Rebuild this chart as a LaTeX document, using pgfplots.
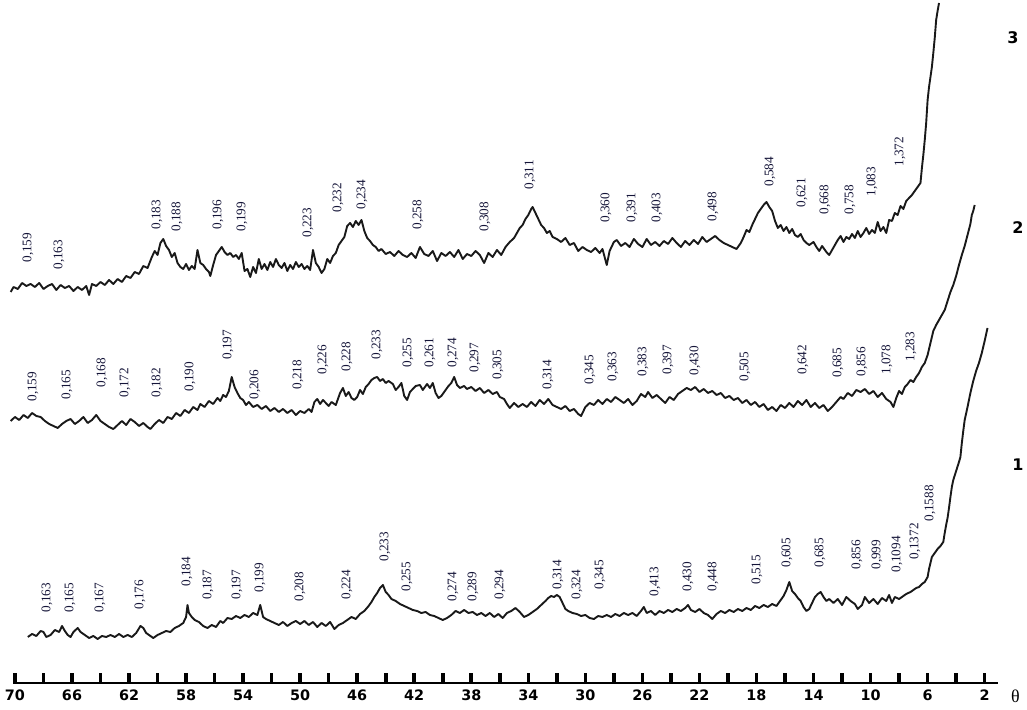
\documentclass[border=0pt]{standalone}
\usepackage{fontspec}
\setmainfont{Liberation Serif}
\newfontfamily\dejavu{DejaVu Sans}
\usepackage{pgfplots}
\pgfplotsset{compat=1.18}
\definecolor{labcol}{rgb}{0.08,0.08,0.22}
\definecolor{curve}{rgb}{0.1,0.1,0.1}

% 1 px of the reference = 0.5pt; y is height above the axis line in px
\pgfplotsset{
  pattern/.style={curve, line width=0.95pt, mark=none, line join=round},
  peaklabels/.style={only marks, mark=none, nodes near coords, point meta=explicit symbolic,
    nodes near coords style={rotate=90, anchor=west, inner sep=0pt, text=labcol,
      font=\fontsize{6.6}{7}\selectfont}},
}

\begin{document}
\begin{tikzpicture}
\begin{axis}[
  x=7.13pt, y=0.5pt,
  x dir=reverse,
  xmin=1.07, xmax=70.14, ymin=0, ymax=683,
  axis x line=bottom, axis y line=none,
  axis line style={-, line width=1pt},
  xtick={2,6,...,70},
  xticklabels={2,6,10,14,18,22,26,30,34,38,42,46,50,54,58,62,66,70},
  minor xtick={4,8,...,68},
  tick align=inside,
  major tick length=5pt, minor tick length=5pt,
  tick style={black, line width=1.8pt},
  xticklabel style={font=\dejavu\bfseries\fontsize{7.2}{8}\selectfont},
  clip=false,
]

% curve 3
\addplot[pattern] coordinates {
(70.3,391) (70.1,396) (69.8,394) (69.5,400) (69.2,397) (68.9,399) (68.6,396) (68.3,400) (68.0,394) (67.7,397)
(67.4,399) (67.1,393) (66.8,398) (66.5,395) (66.2,397) (65.9,392) (65.6,396) (65.3,393) (65.0,397) (64.8,388)
(64.6,399) (64.3,397) (64.0,401) (63.7,398) (63.4,403) (63.1,399) (62.8,404) (62.5,401) (62.2,407) (61.9,405)
(61.6,411) (61.3,409) (61.0,417) (60.7,415) (60.4,426) (60.2,432) (60.0,428) (59.8,440) (59.6,444) (59.4,437)
(59.2,433) (59.0,426) (58.8,430) (58.6,420) (58.4,416) (58.2,414) (58.0,419) (57.8,413) (57.6,417) (57.4,414)
(57.2,433) (57.0,420) (56.8,418) (56.6,414) (56.4,411) (56.3,407) (56.1,418) (55.9,428) (55.7,432) (55.5,436)
(55.3,431) (55.1,428) (54.9,430) (54.7,426) (54.5,428) (54.3,424) (54.1,430) (53.9,412) (53.7,414) (53.5,406)
(53.3,416) (53.1,410) (52.9,424) (52.7,414) (52.5,419) (52.3,413) (52.1,421) (51.9,416) (51.7,424) (51.5,418)
(51.3,415) (51.1,420) (50.9,412) (50.7,418) (50.5,414) (50.3,421) (50.1,416) (49.9,419) (49.7,414) (49.5,417)
(49.3,413) (49.1,433) (48.9,420) (48.7,416) (48.5,410) (48.3,414) (48.1,424) (47.9,420) (47.7,427) (47.5,430)
(47.3,438) (47.1,442) (46.9,446) (46.7,457) (46.5,460) (46.3,456) (46.1,462) (45.9,458) (45.7,463) (45.5,452)
(45.3,445) (45.1,442) (44.9,438) (44.7,436) (44.5,432) (44.3,434) (44.0,429) (43.7,431) (43.4,427) (43.1,432)
(42.8,428) (42.5,426) (42.2,430) (41.9,425) (41.6,436) (41.3,429) (41.0,427) (40.7,432) (40.4,422) (40.1,430)
(39.8,427) (39.5,431) (39.2,426) (38.9,433) (38.6,424) (38.3,429) (38.0,427) (37.7,432) (37.4,428) (37.1,420)
(36.8,430) (36.5,426) (36.2,433) (35.9,428) (35.6,436) (35.3,441) (35.0,445) (34.8,450) (34.6,455) (34.4,458)
(34.2,464) (34.0,468) (33.8,474) (33.7,476) (33.5,470) (33.3,464) (33.1,458) (32.9,455) (32.7,450) (32.5,452)
(32.3,446) (32.0,444) (31.7,441) (31.4,445) (31.1,438) (30.8,440) (30.5,432) (30.2,436) (29.9,433) (29.6,431)
(29.3,435) (29.0,430) (28.8,434) (28.5,418) (28.3,432) (28.0,441) (27.8,443) (27.5,437) (27.2,440) (26.9,436)
(26.6,444) (26.3,439) (26.0,436) (25.7,444) (25.4,438) (25.1,441) (24.8,437) (24.5,442) (24.2,439) (23.9,445)
(23.6,440) (23.3,436) (23.0,442) (22.7,438) (22.4,443) (22.1,439) (21.8,446) (21.5,441) (21.2,444) (20.9,447)
(20.6,443) (20.3,440) (20.0,438) (19.7,436) (19.4,434) (19.1,440) (18.9,446) (18.7,453) (18.5,451) (18.3,458)
(18.1,464) (17.9,470) (17.7,474) (17.5,478) (17.3,481) (17.1,476) (16.9,472) (16.7,462) (16.5,455) (16.3,458)
(16.1,452) (15.9,456) (15.7,450) (15.5,454) (15.3,448) (15.1,446) (14.9,449) (14.7,443) (14.5,440) (14.3,438)
(14.0,441) (13.8,436) (13.6,432) (13.4,437) (13.1,431) (12.9,428) (12.7,433) (12.5,438) (12.3,443) (12.1,447)
(11.9,441) (11.7,446) (11.5,444) (11.3,449) (11.1,445) (10.9,452) (10.7,446) (10.5,450) (10.3,455) (10.1,449)
(9.9,453) (9.7,450) (9.5,461) (9.3,452) (9.1,456) (8.9,450) (8.7,463) (8.5,462) (8.3,470) (8.1,468)
(7.9,477) (7.7,474) (7.5,482) (7.3,485) (7.1,488) (6.9,492) (6.7,496) (6.5,500) (6.4,515) (6.3,528)
(6.2,543) (6.1,560) (6.0,583) (5.9,596) (5.8,606) (5.7,616) (5.6,630) (5.5,645) (5.4,663) (5.3,672) (5.2,680)
};

% curve 2
\addplot[pattern] coordinates {
(70.3,262) (70.0,266) (69.7,263) (69.4,268) (69.1,265) (68.8,270) (68.5,267) (68.2,266) (67.9,262) (67.6,259)
(67.3,257) (67.0,255) (66.7,259) (66.4,262) (66.1,264) (65.8,259) (65.5,262) (65.2,266) (64.9,260) (64.6,263)
(64.3,268) (64.0,262) (63.7,259) (63.4,256) (63.1,254) (62.8,258) (62.5,262) (62.2,258) (61.9,264) (61.6,261)
(61.3,257) (61.0,260) (60.7,256) (60.5,254) (60.2,259) (59.9,263) (59.6,260) (59.3,266) (59.0,264) (58.7,270)
(58.4,267) (58.1,273) (57.8,270) (57.5,276) (57.2,273) (57.0,279) (56.7,276) (56.4,282) (56.1,279) (55.8,285)
(55.6,282) (55.4,288) (55.2,286) (55.0,292) (54.8,306) (54.6,296) (54.4,290) (54.2,285) (54.0,283) (53.8,278)
(53.6,281) (53.3,276) (53.0,278) (52.7,274) (52.4,277) (52.1,272) (51.8,275) (51.5,271) (51.2,274) (50.9,270)
(50.6,273) (50.3,268) (50.0,272) (49.7,270) (49.4,274) (49.2,271) (49.0,281) (48.8,284) (48.6,279) (48.4,283)
(48.2,280) (48.0,277) (47.8,281) (47.5,278) (47.2,290) (47.0,295) (46.8,287) (46.6,291) (46.4,285) (46.2,283)
(46.0,286) (45.8,293) (45.6,289) (45.4,296) (45.2,299) (45.0,303) (44.8,305) (44.6,306) (44.4,302) (44.2,304)
(44.0,300) (43.8,302) (43.5,299) (43.3,293) (43.1,296) (42.9,300) (42.7,287) (42.5,283) (42.3,291) (42.1,294)
(41.9,297) (41.6,298) (41.4,293) (41.1,299) (40.9,295) (40.7,300) (40.5,290) (40.3,285) (40.1,287) (39.8,293)
(39.6,297) (39.4,300) (39.2,306) (39.0,298) (38.8,295) (38.5,297) (38.3,294) (38.0,296) (37.7,292) (37.4,295)
(37.1,290) (36.8,293) (36.5,289) (36.2,291) (36.0,286) (35.7,284) (35.5,279) (35.3,275) (35.0,280) (34.7,276)
(34.4,279) (34.1,276) (33.8,281) (33.5,277) (33.2,283) (32.9,279) (32.6,284) (32.3,278) (32.0,276) (31.7,274)
(31.4,277) (31.1,272) (30.8,274) (30.5,269) (30.3,267) (30.0,276) (29.7,280) (29.4,278) (29.1,283) (28.8,279)
(28.5,284) (28.2,281) (27.9,286) (27.6,283) (27.3,280) (27.0,284) (26.7,278) (26.4,282) (26.1,289) (25.8,286)
(25.6,291) (25.3,285) (25.0,288) (24.7,284) (24.4,280) (24.1,286) (23.8,283) (23.5,289) (23.2,292) (22.9,295)
(22.6,293) (22.3,296) (22.0,291) (21.7,294) (21.4,290) (21.1,292) (20.8,288) (20.5,290) (20.2,285) (19.9,287)
(19.6,283) (19.3,285) (19.0,280) (18.7,283) (18.4,278) (18.1,281) (17.8,276) (17.5,279) (17.2,273) (16.9,276)
(16.6,272) (16.3,278) (16.0,275) (15.7,280) (15.4,276) (15.1,282) (14.8,278) (14.5,283) (14.2,276) (13.9,280)
(13.6,275) (13.3,278) (13.0,272) (12.7,276) (12.4,281) (12.1,286) (11.9,284) (11.6,290) (11.3,287) (11.0,293)
(10.7,291) (10.4,294) (10.1,289) (9.8,292) (9.5,286) (9.2,290) (8.9,284) (8.6,281) (8.4,276) (8.2,285)
(8.0,292) (7.8,289) (7.6,296) (7.4,299) (7.2,303) (7.0,301) (6.8,306) (6.6,310) (6.4,316) (6.2,320)
(6.0,328) (5.8,340) (5.6,352) (5.4,358) (5.2,363) (5.0,368) (4.8,373) (4.6,382) (4.4,391) (4.2,398)
(4.0,407) (3.8,418) (3.6,428) (3.4,437) (3.2,448) (3.0,459) (2.9,468) (2.8,472) (2.7,478)
};

% curve 1
\addplot[pattern] coordinates {
(69.1,46) (68.8,49) (68.5,47) (68.2,52) (68.0,51) (67.8,46) (67.5,48) (67.2,53) (66.9,51) (66.7,57)
(66.5,52) (66.3,48) (66.1,46) (65.9,51) (65.6,55) (65.4,51) (65.1,48) (64.8,45) (64.5,47) (64.2,44)
(63.9,47) (63.6,46) (63.3,48) (63.0,46) (62.7,49) (62.4,46) (62.1,48) (61.8,46) (61.5,50) (61.2,57)
(61.0,55) (60.8,50) (60.5,47) (60.3,45) (60.0,48) (59.7,50) (59.4,52) (59.1,51) (58.8,55) (58.5,57)
(58.2,60) (58.0,66) (57.9,78) (57.8,70) (57.6,66) (57.4,63) (57.1,61) (56.8,57) (56.5,55) (56.2,58)
(55.9,56) (55.6,62) (55.4,60) (55.1,65) (54.8,64) (54.5,67) (54.2,65) (53.9,68) (53.6,66) (53.3,70)
(53.0,68) (52.8,78) (52.6,66) (52.4,64) (52.1,62) (51.8,60) (51.5,58) (51.2,61) (50.9,57) (50.6,60)
(50.3,62) (50.0,59) (49.7,62) (49.4,58) (49.1,61) (48.8,56) (48.5,60) (48.2,57) (47.9,61) (47.6,54)
(47.3,58) (47.0,60) (46.7,63) (46.4,66) (46.1,64) (45.8,69) (45.5,72) (45.2,77) (45.0,81) (44.8,86)
(44.6,90) (44.4,95) (44.2,98) (44.0,91) (43.8,88) (43.6,84) (43.3,82) (43.0,79) (42.7,77) (42.4,75)
(42.1,73) (41.8,72) (41.5,70) (41.2,71) (40.9,68) (40.6,67) (40.3,65) (40.0,63) (39.7,65) (39.4,68)
(39.1,72) (38.8,70) (38.5,73) (38.2,70) (37.9,71) (37.6,68) (37.3,70) (37.0,67) (36.7,70) (36.4,66)
(36.1,69) (35.8,65) (35.5,70) (35.2,72) (34.9,75) (34.6,71) (34.3,66) (34.0,68) (33.7,71) (33.4,74)
(33.1,78) (32.8,82) (32.6,85) (32.4,87) (32.2,86) (32.0,88) (31.8,86) (31.6,80) (31.4,74) (31.2,72)
(30.9,70) (30.6,69) (30.3,67) (30.0,68) (29.7,65) (29.4,64) (29.1,67) (28.8,66) (28.5,68) (28.2,66)
(27.9,69) (27.6,67) (27.3,70) (27.0,68) (26.7,70) (26.4,67) (26.1,72) (25.9,76) (25.7,70) (25.4,72)
(25.1,68) (24.8,72) (24.5,70) (24.2,73) (23.9,71) (23.6,74) (23.3,72) (23.0,75) (22.8,78) (22.6,73)
(22.3,71) (22.0,74) (21.7,70) (21.4,68) (21.1,64) (20.8,69) (20.5,72) (20.2,70) (19.9,73) (19.6,71)
(19.3,74) (19.0,72) (18.7,75) (18.4,73) (18.1,77) (17.8,75) (17.5,78) (17.2,76) (16.9,79) (16.6,77)
(16.3,83) (16.1,87) (15.9,93) (15.7,101) (15.5,92) (15.3,89) (15.1,85) (14.9,82) (14.7,76) (14.5,72)
(14.3,74) (14.1,80) (13.9,86) (13.7,89) (13.5,91) (13.3,86) (13.1,82) (12.9,84) (12.6,80) (12.3,84)
(12.0,78) (11.7,86) (11.4,82) (11.1,79) (10.9,74) (10.6,78) (10.4,86) (10.1,80) (9.8,84) (9.5,79)
(9.2,85) (8.9,82) (8.7,88) (8.5,80) (8.3,86) (8.0,84) (7.8,86) (7.5,89) (7.2,91) (7.0,93)
(6.8,95) (6.6,96) (6.4,99) (6.2,101) (6.0,106) (5.9,114) (5.8,120) (5.7,126) (5.5,130) (5.3,134)
(5.1,137) (4.9,141) (4.8,150) (4.7,158) (4.6,165) (4.5,175) (4.4,186) (4.3,196) (4.2,203) (4.0,212)
(3.8,221) (3.7,226) (3.6,240) (3.5,252) (3.4,263) (3.2,276) (3.0,290) (2.8,302) (2.6,312) (2.4,320)
(2.2,330) (2.0,342) (1.8,355)
};

% d-spacing labels, curve 3
\addplot[peaklabels] table[x=t, y=y, meta=l] {
t y l
69.09 420 0,159
66.91 413 0,163
60.04 453 0,183
58.64 451 0,188
55.76 453 0,196
54.08 451 0,199
49.45 445 0,223
47.35 470 0,232
45.67 473 0,234
41.74 453 0,258
37.04 451 0,308
33.88 493 0,311
28.55 460 0,360
26.73 460 0,391
24.98 460 0,403
21.05 461 0,498
17.05 496 0,584
14.81 475 0,621
13.20 468 0,668
11.45 468 0,758
9.90 486 1,083
7.94 516 1,372
};

% d-spacing labels, curve 2
\addplot[peaklabels] table[x=t, y=y, meta=l] {
t y l
68.74 281 0,159
66.35 283 0,165
63.90 295 0,168
62.29 285 0,172
60.04 285 0,182
57.73 291 0,190
55.06 323 0,197
53.17 283 0,206
50.15 293 0,218
48.40 308 0,226
46.72 311 0,228
44.61 323 0,233
42.44 315 0,255
40.90 315 0,261
39.28 315 0,274
37.74 310 0,297
36.13 303 0,305
32.62 293 0,314
29.68 298 0,345
28.07 301 0,363
25.96 306 0,383
24.21 308 0,397
22.31 307 0,430
18.81 301 0,505
14.74 308 0,642
12.29 305 0,685
10.60 306 0,856
8.85 308 1,078
7.17 321 1,283
};

% d-spacing labels, curve 1
\addplot[peaklabels] table[x=t, y=y, meta=l] {
t y l
67.76 70 0,163
66.14 70 0,165
64.04 70 0,167
61.23 73 0,176
57.94 96 0,184
56.47 83 0,187
54.43 83 0,197
52.82 90 0,199
50.01 81 0,208
46.72 83 0,224
44.05 121 0,233
42.51 91 0,255
39.28 81 0,274
37.88 81 0,289
35.99 83 0,294
31.92 93 0,314
30.59 83 0,324
28.98 93 0,345
25.12 86 0,413
22.81 91 0,430
21.05 91 0,448
17.97 98 0,515
15.86 115 0,605
13.55 115 0,685
10.95 113 0,856
9.55 113 0,999
8.15 110 0,1094
6.89 123 0,1372
5.84 161 0,1588
};

% curve numbers and axis symbol
\node[font=\dejavu\bfseries\fontsize{8}{9}\selectfont] at (axis cs:0.02,645) {3};
\node[font=\dejavu\bfseries\fontsize{8}{9}\selectfont] at (axis cs:-0.34,455) {2};
\node[font=\dejavu\bfseries\fontsize{8}{9}\selectfont] at (axis cs:-0.34,218) {1};
\node[font=\fontsize{9}{10}\selectfont, inner sep=1pt] at (axis cs:-0.15,-13) {θ};

\coordinate (bl) at (axis cs:71.05,-27);
\coordinate (tr) at (axis cs:-0.97,683);
\end{axis}
\pgfresetboundingbox
\path[use as bounding box] (bl) rectangle (tr);
\end{tikzpicture}
\end{document}
